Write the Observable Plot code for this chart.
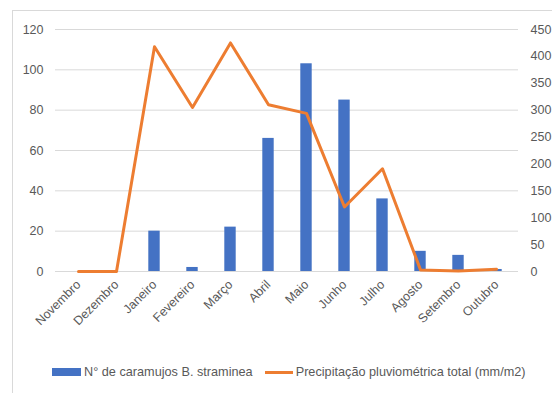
<!DOCTYPE html>
<html>
<head>
<meta charset="utf-8">
<script src="https://cdn.jsdelivr.net/npm/d3@7"></script>
<script src="https://cdn.jsdelivr.net/npm/@observablehq/plot@0.6"></script>
<style>
  html, body { margin: 0; padding: 0; background: #fff; }
  #wrap { position: relative; width: 552px; height: 393px; overflow: hidden; }
  #border-top { position: absolute; left: 12px; top: 10px; width: 540px; height: 1px; background: #d9d9d9; }
  #border-left { position: absolute; left: 12px; top: 10px; width: 1px; height: 383px; background: #d9d9d9; }
  #chart { position: absolute; left: 0; top: 0; }
  #legend { position: absolute; left: 52px; top: 365px; font-family: "Liberation Sans", Arial, sans-serif; font-size: 12.7px; color: #595959; white-space: nowrap; display: flex; align-items: center; }
  .sw-bar { display: inline-block; width: 29px; height: 8px; background: #4472c4; margin-right: 3px; }
  .sw-line { display: inline-block; width: 28px; height: 3px; background: #ed7d31; margin-left: 12px; margin-right: 3px; }
</style>
</head>
<body>
<div id="wrap">
  <div id="border-top"></div>
  <div id="border-left"></div>
  <div id="chart"></div>
  <div id="legend"><span class="sw-bar"></span><span>N° de caramujos B. straminea</span><span class="sw-line"></span><span>Precipitação pluviométrica total (mm/m2)</span></div>
</div>
<script>
const months = ["Novembro","Dezembro","Janeiro","Fevereiro","Março","Abril","Maio","Junho","Julho","Agosto","Setembro","Outubro"];
const snails = [0, 0, 20, 2, 22, 66, 103, 85, 36, 10, 8, 1];
const rainfall = [0, 0, 418, 305, 425, 310, 294, 120, 191, 3, 1, 4];
const leftTicks = [0, 20, 40, 60, 80, 100, 120];
const rightTicks = [0, 50, 100, 150, 200, 250, 300, 350, 400, 450];
const leftMax = 120, rightMax = 450;

const data = months.map((m, i) => ({month: m, snails: snails[i], rain: rainfall[i]}));
const toLeft = v => v * leftMax / rightMax;

const font = '"Liberation Sans", Arial, sans-serif';

const chart = Plot.plot({
  width: 552,
  height: 345,
  marginLeft: 55,
  marginRight: 34,
  marginTop: 29,
  marginBottom: 74,
  style: {fontFamily: font, fontSize: "12.5px", color: "#595959", background: "transparent"},
  x: {type: "band", domain: months, padding: 0, label: null},
  y: {domain: [0, leftMax], label: null},
  marks: [
    Plot.gridY(leftTicks, {stroke: "#d9d9d9", strokeOpacity: 1, strokeWidth: 1}),
    Plot.barY(data, {x: "month", y: "snails", fill: "#4472c4", insetLeft: 13.3, insetRight: 13.3}),
    Plot.line(data, {x: "month", y: d => toLeft(d.rain), stroke: "#ed7d31", strokeWidth: 3, strokeLinejoin: "round"}),
    Plot.axisY(leftTicks, {anchor: "left", tickSize: 0, tickPadding: 12, label: null, fill: "#595959"}),
    Plot.axisY(rightTicks.map(toLeft), {anchor: "right", tickSize: 0, tickPadding: 12, label: null, fill: "#595959", tickFormat: d => String(Math.round(d * rightMax / leftMax))}),
    Plot.axisX({tickSize: 0, tickPadding: 11, tickRotate: -45, label: null, fill: "#595959"})
  ]
});
document.getElementById("chart").appendChild(chart);
</script>
</body>
</html>
